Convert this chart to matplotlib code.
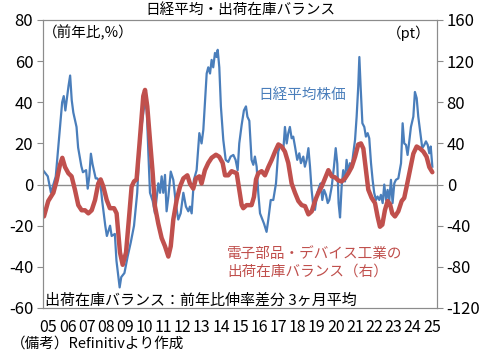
import matplotlib
matplotlib.use('Agg')
import matplotlib.pyplot as plt

plt.rcParams['font.family'] = ['Noto Sans CJK JP', 'DejaVu Sans']
plt.rcParams['axes.unicode_minus'] = False

# first observation of both series (autumn 2004), offsets below are in months
t0 = 2004.71

# Nikkei average, year-on-year change (%), left axis
nikkei_month = [0, 3, 5, 8, 10, 12, 13, 14, 16, 17, 18, 19, 21, 22, 24, 25, 27, 28, 29, 30,
                31, 33, 34, 36, 37, 39, 40, 42, 43, 45, 46, 48, 49, 51, 53, 55, 57, 59, 60, 61,
                62, 63, 64, 65, 66, 67, 68.7, 70.1, 72.2, 73.3, 74.3, 75.3, 76.4, 77.4, 78.5, 80, 81.6, 83.3, 84.7, 86.2,
                87.9, 89.5, 91, 92, 93.1, 94.5, 96.2, 97.9, 99.3, 100.4, 101.4, 102.5, 103.5, 104.6, 105.6, 106.6, 107.7, 108.7, 109.4, 110.4,
                111.4, 112.9, 114.4, 116, 117.5, 119.2, 120.6, 121.9, 122.9, 124.4, 125.8, 127.1, 128, 129.2, 130.6, 131.7, 132.7, 133.8, 134.8, 135.9,
                136.9, 138.4, 140, 141.1, 142.6, 144.2, 145.9, 147.3, 148.8, 150.5, 151.5, 152.6, 153.6, 154.6, 155.7, 156.7, 157.8, 159.2, 160.5, 161.5,
                163, 164, 165.1, 166.2, 167.2, 168.2, 169.3, 170.3, 171.8, 173, 173.9, 174.9, 176, 177.2, 178.3, 179.3, 180.8, 182.2, 183.3, 184.3,
                185.1, 186, 187, 188, 189.1, 190.1, 191.2, 192.2, 193.3, 194.3, 195.4, 196.4, 197.4, 198.1, 198.9, 200, 201.2, 202.2, 203.3, 204.3,
                205.4, 206.4, 207.4, 208.5, 209.5, 210.6, 211.6, 212.7, 213.7, 214.8, 215.8, 216.8, 217.9, 218.9, 220, 221, 222.5, 224.2, 225.2, 226.2,
                227.3, 228.3, 229.2, 230.4, 231.9, 232.9, 234, 235, 236.3, 237.5, 238.8, 239.8, 240.9, 241.9, 242.8, 243.8]
nikkei_yoy = [7, 4, -4, 4, 22, 40, 43, 36, 48, 53, 41, 35, 28, 18, 9, 6, 7, -2, 4, 15,
              10, 3, 3, 0.5, -7.5, -20, -25, -20, -25, -24, -37, -50, -45, -43, -35, -28, -20, -4, 12, 22,
              30, 36, 40, 36, 15, -4, -8, -14, 0.6, -4, 4, -4, 4.7, -13, -6, 6.3, 2.3, -10, -17, -14,
              -4, -10.7, -13, -10.7, -14, 2.3, 7, 25, 20, 26.6, 39.5, 54, 57, 54, 60.6, 57, 64, 62, 65.5, 57,
              38, 21.7, 12, 11, 13.6, 14.4, 12, 7, 20, 29, 36, 38, 33, 31, 12, 9.6, 13.6, 8.7, -4, -14,
              -16, -19, -23, -17, -7.5, -7.5, 0.6, 16, 19.3, 16.9, 28, 20, 25, 28, 22.5, 23.3, 18.5, 12, 15.2, 10.4,
              13.6, 8.7, 12, 17.7, 8.7, -2.6, -10.7, -12.3, -4, -1, 0.6, -7.5, -2.6, -5, -9, -7.5, -1, 8.7, 17.7, 10,
              -9, -16, -1, 7, 1.5, 12, 5.5, 10.4, 8.7, 15.2, 21.7, 33, 47.6, 62, 47.6, 29.8, 28, 23.3, 25, 22.5,
              10.4, 2.3, -4, -7.5, -5.8, -7.5, -5, -9, 0, -7.5, -2.6, -8, 2.3, -9, 0.6, 2.3, 3, 10.4, 29.8, 20,
              19.3, 14.4, 20, 28, 33, 45, 42, 33, 25, 17.7, 19.3, 21, 19.3, 15.2, 18.5, 8.7]

# electronic parts & devices: shipment-inventory balance (pt), right axis
balance_month = [0.6, 3.3, 6.5, 8.6, 10.6, 12.1, 13.8, 15.9, 17.9, 20, 22.1, 24.2, 26.3, 28.4, 30.5, 32.6, 34.6, 36.1, 37.8, 39.9,
                 41.9, 44.5, 46.1, 48.2, 49.9, 52, 54.1, 55.5, 57, 58.6, 60.3, 62.8, 63.9, 65.3, 67, 68.7, 70.1, 72.2, 74.3, 76.4,
                 78.5, 80, 81.6, 83.7, 85.8, 87.9, 90.4, 92, 94.1, 95.8, 97.9, 99.3, 101.4, 103.5, 105.6, 108.3, 110.4, 112.5, 114, 116,
                 118.1, 121.3, 122.9, 124.4, 125.4, 127.5, 130.6, 132.1, 133.4, 134.8, 136.9, 139, 141.1, 143.2, 145.3, 147.4, 149.4, 151.5, 153.6, 155.7,
                 157.8, 159.9, 162, 164.1, 166.2, 168.3, 170.3, 172.4, 174.5, 176.6, 178.7, 180.8, 182.9, 184.9, 187, 189.1, 191.2, 193.3, 195.4, 197.4,
                 199.1, 200.6, 202, 203.7, 205.8, 207.9, 209.5, 211, 212.5, 214.1, 215.8, 217.3, 218.7, 220.4, 222.5, 224.6, 226.2, 227.7, 229.8, 231.9,
                 234, 236.1, 238.2, 240.2, 241.9, 243.8]
balance_pt = [-31, -16, -8, 4, 19, 26, 17, 11, 8, -5, -20, -25, -25, -28, -25, -15, 1, 5, -2, -15,
              -23, -23, -28, -66, -78, -66, -28, -2, 3, 5, 37, 86, 92, 76, 43, 11, -21, -38, -52, -60,
              -70, -60, -34, -15, -2, 6, 9, 1, -4, 6, 8, 1, 14, 21, 26, 29, 27, 21, 9, 9,
              13, 11, -5, -20, -23, -20, -20, -12, 5, 11, 13, 9, 17, 24, 32, 39, 37, 32, 21, 1,
              -8, -16, -20, -21, -29, -26, -16, -8, -2, 6, 14, 8, 7, 4, 3, 6, 11, 17, 27, 39,
              40, 35, 17, -5, -13, -18, -31, -41, -39, -25, -16, -19, -28, -31, -26, -16, -13, -2, 14, 30,
              37, 35, 32, 27, 17, 12]

year_labels = ['05', '06', '07', '08', '09', '10', '11', '12', '13', '14', '15',
               '16', '17', '18', '19', '20', '21', '22', '23', '24', '25']
left_ticks = [-60, -40, -20, 0, 20, 40, 60, 80]
right_ticks = [-120, -80, -40, 0, 40, 80, 120, 160]

blue = '#4A7EBB'
red = '#C0504D'
grey = '#8C8C8C'

fig = plt.figure(figsize=(4.93, 3.57), dpi=100)
ax = fig.add_axes([0.0872, 0.1373, 0.7992, 0.8067])
ax2 = ax.twinx()

# zero line
ax.axhline(0, color=grey, linewidth=1, zorder=1)

nx = [t0 + m / 12 for m in nikkei_month]
bx = [t0 + m / 12 for m in balance_month]
ax.plot(nx, nikkei_yoy, color=blue, linewidth=1.6, zorder=2)
ax2.plot(bx, balance_pt, color=red, linewidth=3.2, solid_joinstyle='round', solid_capstyle='round')

ax.set_xlim(2004.71, 2025.27)
ax.set_ylim(-60, 80)
ax2.set_ylim(-120, 160)

ax.set_xticks([2005 + i for i in range(len(year_labels))])
ax.set_xticklabels(year_labels)
ax.set_yticks(left_ticks)
ax2.set_yticks(right_ticks)

ax.tick_params(axis='x', length=0, pad=8, labelsize=11.5)
ax.tick_params(axis='y', direction='out', length=4, width=0.8, color=grey, pad=3, labelsize=12)
ax2.tick_params(axis='y', direction='out', length=4, width=0.8, color=grey, pad=3, labelsize=12)

for a in (ax, ax2):
    for s in a.spines.values():
        s.set_color(grey)
        s.set_linewidth(0.8)

# texts
fig.text(0.487, 0.972, '日経平均・出荷在庫バランス', ha='center', va='center', fontsize=10.5)
ax.text(0.0, 0.955, '（前年比,%）', transform=ax.transAxes, ha='left', va='center', fontsize=10.5)
ax.text(0.985, 0.955, '（pt）', transform=ax.transAxes, ha='right', va='center', fontsize=10.5)
ax.text(0.546, 0.74, '日経平均株価', transform=ax.transAxes, ha='left', va='center',
        fontsize=10.5, color=blue)
ax.text(0.467, 0.186, '電子部品・デバイス工業の', transform=ax.transAxes, ha='left', va='center',
        fontsize=10.5, color=red)
ax.text(0.467, 0.127, '出荷在庫バランス（右）', transform=ax.transAxes, ha='left', va='center',
        fontsize=10.5, color=red)
ax.text(0.005, 0.026, '出荷在庫バランス：前年比伸率差分 3ヶ月平均', transform=ax.transAxes,
        ha='left', va='center', fontsize=10.8)
fig.text(0.022, 0.038, '（備考）Refinitivより作成', ha='left', va='center', fontsize=10.5)

fig.savefig('out.png', dpi=100)
